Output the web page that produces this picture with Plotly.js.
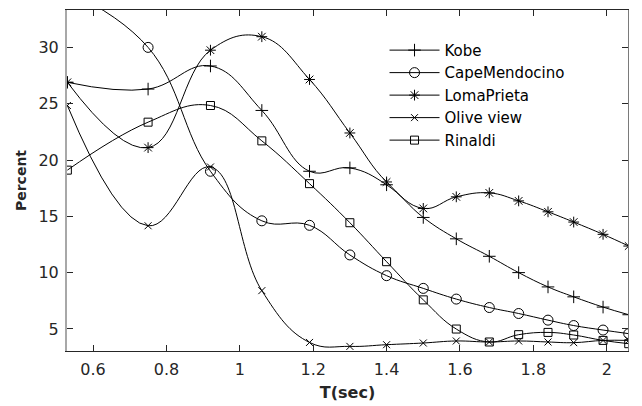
<!DOCTYPE html>
<html>
<head>
<meta charset="utf-8">
<script src="https://cdn.plot.ly/plotly-3.0.1.min.js"></script>
<style>html,body{margin:0;padding:0;background:#fff}#chart{width:642px;height:406px}</style>
</head>
<body>
<div id="chart"></div>
<script>
var periods = [0.53, 0.75, 0.92, 1.06, 1.19, 1.30, 1.40, 1.50, 1.59, 1.68, 1.76, 1.84, 1.91, 1.99, 2.06];
var kobe = [26.9, 26.3, 28.35, 24.4, 19.0, 19.3, 17.8, 14.9, 13.0, 11.45, 10.0, 8.73, 7.85, 6.94, 6.26];
var capeMendocino = [35.0, 30.0, 19.0, 14.6, 14.2, 11.57, 9.73, 8.6, 7.65, 6.9, 6.37, 5.78, 5.3, 4.9, 4.58];
var lomaPrieta = [26.9, 21.1, 29.75, 30.95, 27.15, 22.4, 18.05, 15.7, 16.73, 17.08, 16.37, 15.4, 14.49, 13.4, 12.36];
var oliveView = [24.84, 14.16, 19.38, 8.4, 3.8, 3.45, 3.6, 3.75, 3.93, 3.84, 3.93, 3.84, 3.78, 3.98, 3.98];
var rinaldi = [19.1, 23.36, 24.84, 21.7, 17.9, 14.43, 10.97, 7.58, 4.99, 3.84, 4.49, 4.69, 4.46, 3.98, 3.69];
var names = ['Kobe', 'CapeMendocino', 'LomaPrieta', 'Olive view', 'Rinaldi'];
var series = [kobe, capeMendocino, lomaPrieta, oliveView, rinaldi];
var symbols = ['cross-thin-open', 'circle-open', 'asterisk-open', 'x-thin-open', 'square-open'];
var sizes = [9, 10, 9, 7, 8];
var xTicks = [0.6, 0.8, 1, 1.2, 1.4, 1.6, 1.8, 2];
var xTickText = ['0.6', '0.8', '1', '1.2', '1.4', '1.6', '1.8', '2'];
var yTicks = [5, 10, 15, 20, 25, 30];

var traces = series.map(function (vals, i) {
  return {
    x: periods, y: vals, name: names[i], type: 'scatter', mode: 'lines+markers',
    line: {color: '#000', width: 1, shape: 'spline', smoothing: 1.2},
    marker: {symbol: symbols[i], size: sizes[i], color: '#000', line: {color: '#000', width: 1}}
  };
});

var fontFam = '"DejaVu Sans", Arial, sans-serif';
var layout = {
  width: 642, height: 406,
  margin: {l: 67, r: 14, t: 10, b: 55},
  paper_bgcolor: '#fff', plot_bgcolor: '#fff',
  font: {family: fontFam, size: 16, color: '#262626'},
  showlegend: true,
  legend: {x: 0.566, y: 0.93, xanchor: 'left', yanchor: 'top', bgcolor: 'rgba(0,0,0,0)',
           borderwidth: 0, font: {family: fontFam, size: 15, color: '#000'}, itemwidth: 50},
  xaxis: {
    range: [0.529, 2.058], tickmode: 'array', tickvals: xTicks, ticktext: xTickText,
    ticks: 'inside', ticklen: 6, tickcolor: '#262626', showline: true, linecolor: '#262626', linewidth: 1,
    mirror: 'ticks', showgrid: false, zeroline: false, ticklabelstandoff: 4,
    tickfont: {family: fontFam, size: 16, color: '#262626'},
    title: {text: '<b>T(sec)</b>', font: {family: fontFam, size: 16, color: '#262626'}, standoff: 8}
  },
  yaxis: {
    range: [3.04, 33.32], tickmode: 'array', tickvals: yTicks,
    ticks: 'inside', ticklen: 6, tickcolor: '#262626', showline: true, linecolor: '#a8a8a8', linewidth: 2,
    mirror: false, showgrid: false, zeroline: false, ticklabelstandoff: 3,
    tickfont: {family: fontFam, size: 16, color: '#262626'},
    title: {text: '<b>Percent</b>', font: {family: fontFam, size: 14, color: '#262626'}, standoff: 9}
  },
  yaxis2: {
    overlaying: 'y', side: 'right', range: [3.04, 33.32], tickmode: 'array', tickvals: yTicks,
    ticks: 'inside', ticklen: 6, tickcolor: '#262626', showticklabels: false,
    showline: true, linecolor: '#7a7a7a', linewidth: 1, showgrid: false, zeroline: false
  }
};
traces.push({x: [periods[0]], y: [null], yaxis: 'y2', showlegend: false, hoverinfo: 'skip', mode: 'markers'});
Plotly.newPlot('chart', traces, layout, {staticPlot: true, displayModeBar: false});
</script>
</body>
</html>
